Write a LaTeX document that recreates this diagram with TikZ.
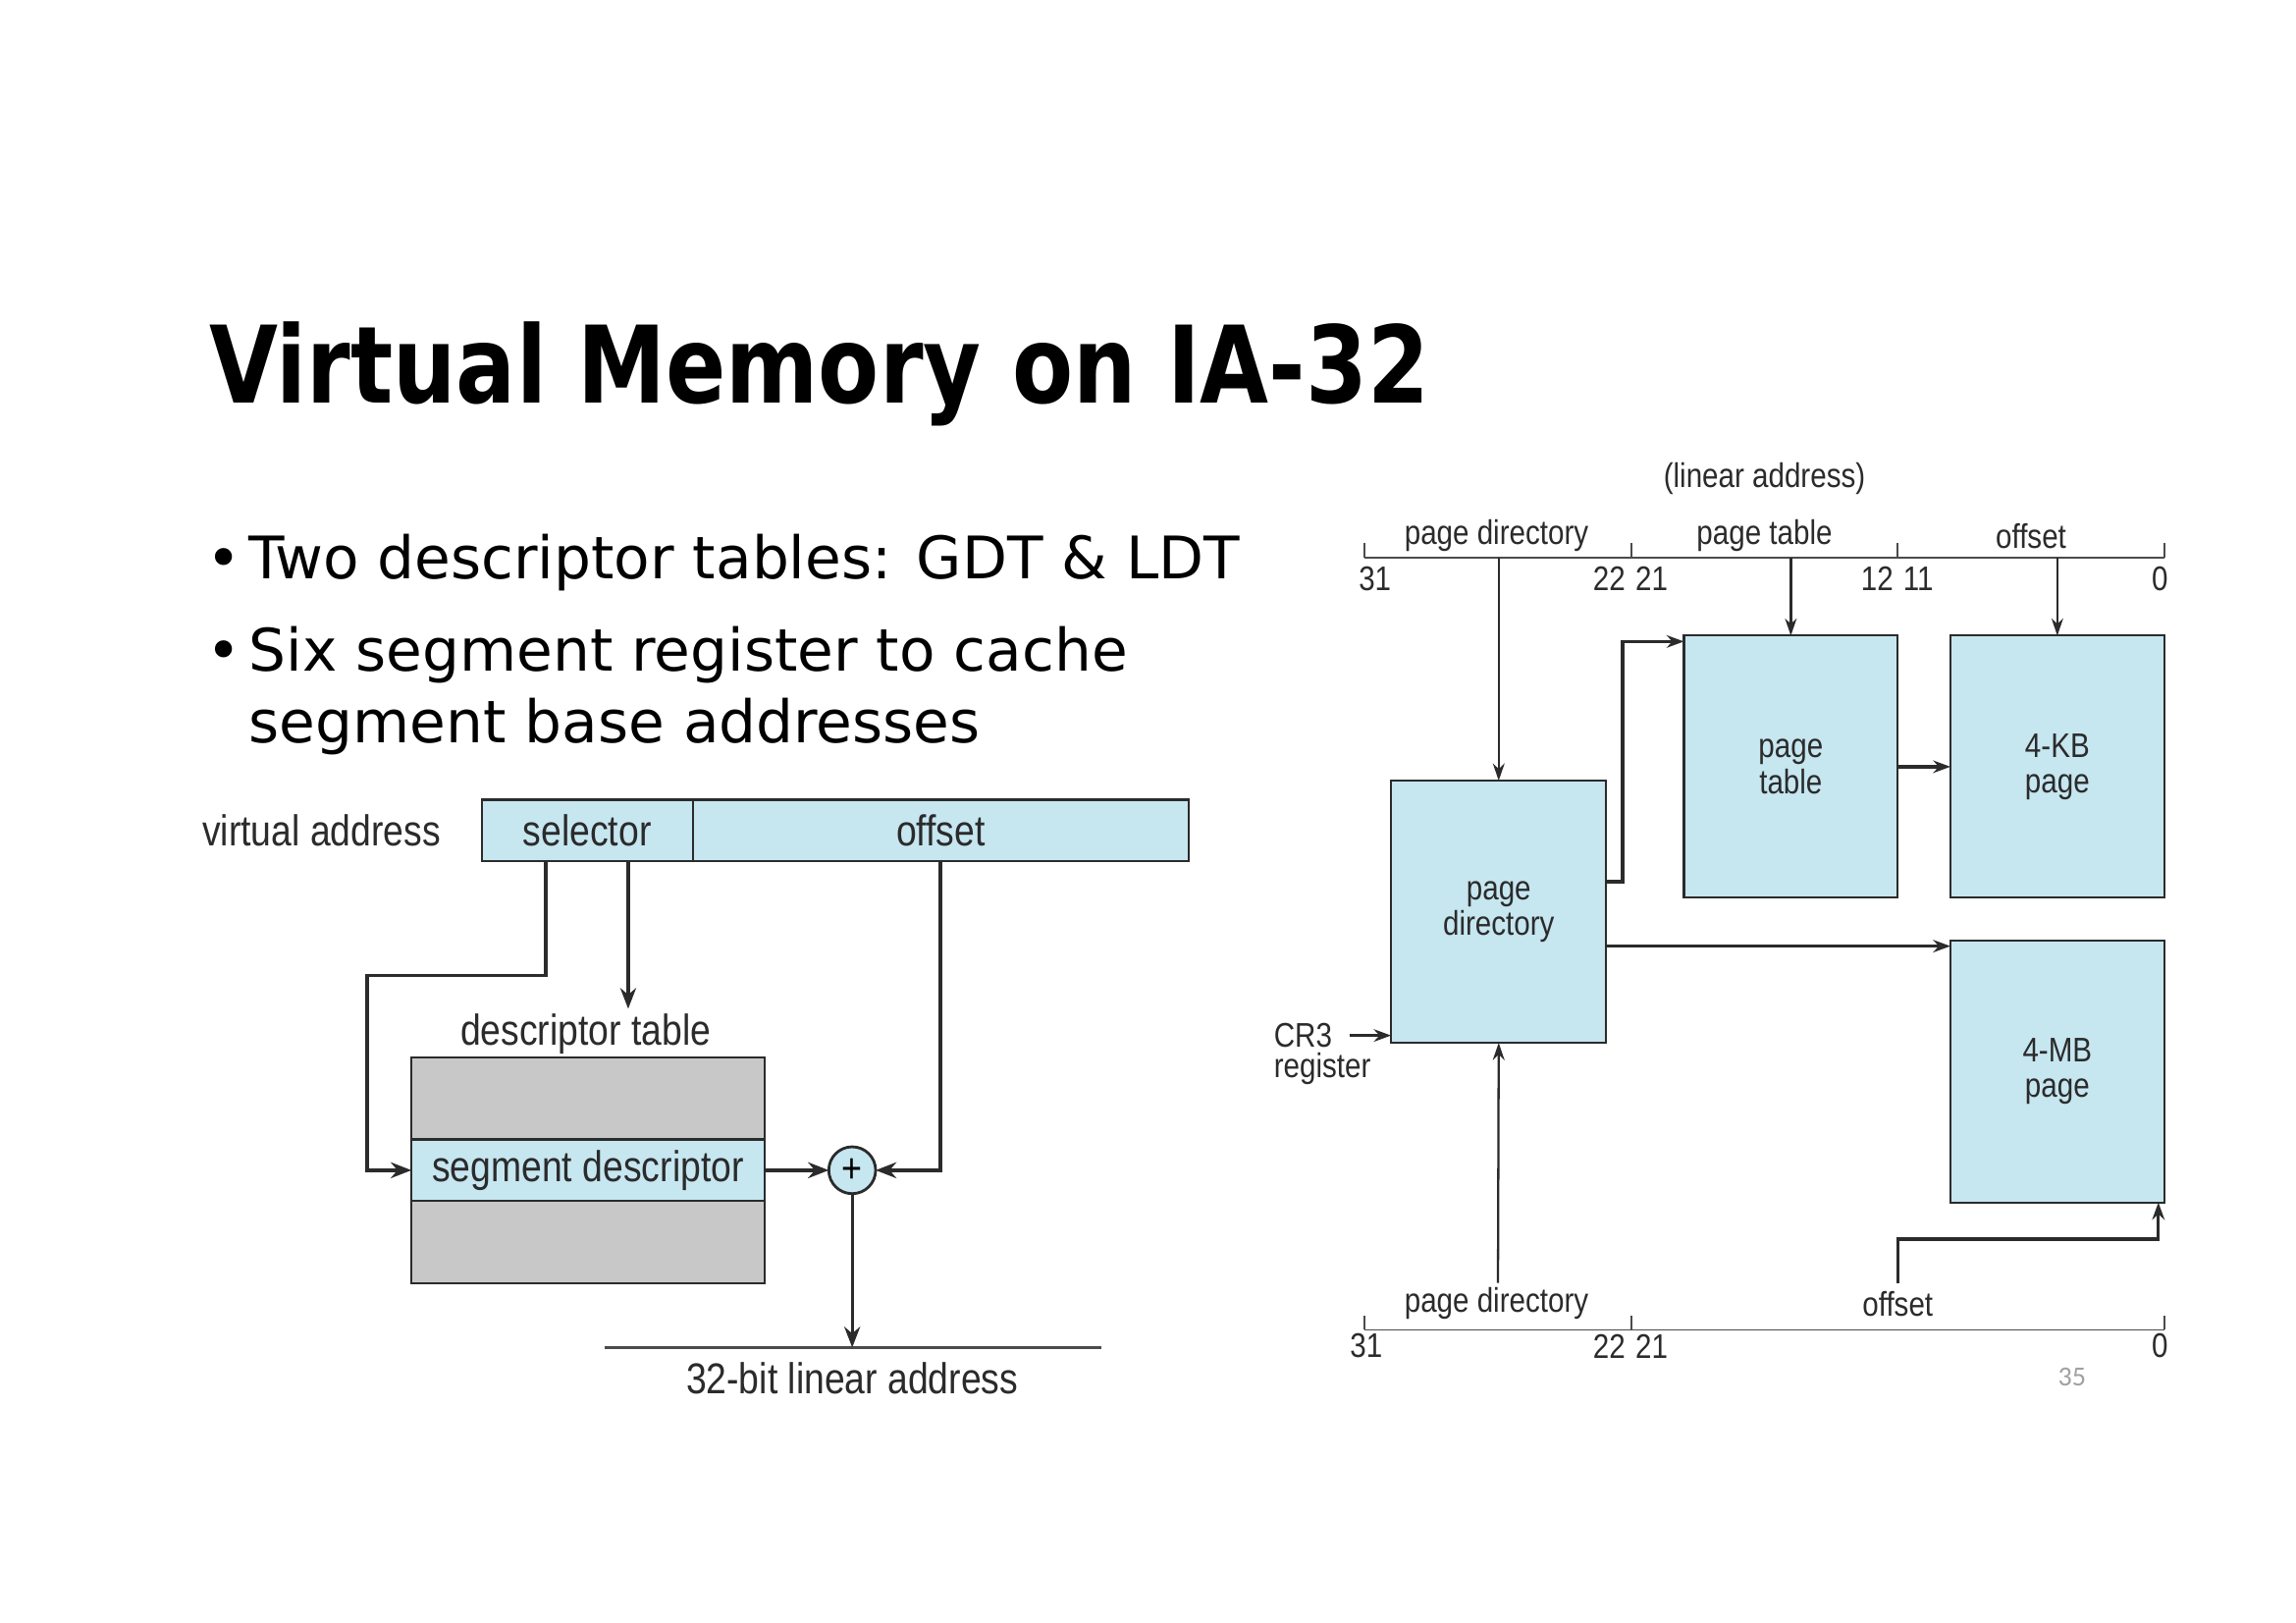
\documentclass[tikz,border=0pt]{standalone}
\usepackage{fontspec}
\setmainfont{DejaVu Sans}
\newfontfamily\titlefont[FakeStretch=0.83]{DejaVu Sans}
\newfontfamily\figfont[FakeStretch=0.85]{Liberation Sans}
\newfontfamily\numfont{Carlito}
\usetikzlibrary{arrows.meta,calc}
\definecolor{boxblue}{HTML}{C6E6F0}
\definecolor{tablegray}{HTML}{C8C8C8}
\definecolor{ink}{HTML}{2B2B2B}
\definecolor{pagegray}{HTML}{A0A0A0}

\begin{document}
\begin{tikzpicture}[x=0.14917mm,y=-0.14917mm,
  every node/.style={inner sep=0pt, outer sep=0pt},
  sized/.style 2 args={minimum width=#1*0.14917mm, minimum height=#2*0.14917mm},
  cell/.style={draw=ink, line width=0.6pt, fill=boxblue, inner sep=0pt, align=center},
  graycell/.style={draw=ink, line width=0.6pt, fill=tablegray, inner sep=0pt},
  lbig/.style={font=\figfont\fontsize{12.5}{14}\selectfont, text=ink},
  lsmall/.style={font=\figfont\fontsize{9.9}{10.3}\selectfont, text=ink, align=center},
  bodytext/.style={font=\fontsize{17}{20}\selectfont, anchor=base west},
  heavy/.style={draw=ink, line width=1.1pt, -{Stealth[length=6pt,width=4.6pt]}},
  light/.style={draw=ink, line width=0.65pt, -{Stealth[length=5pt,width=3.4pt]}},
  medium/.style={draw=ink, line width=0.95pt, -{Stealth[length=5pt,width=3.6pt]}},
  rule/.style={draw=ink!85, line width=0.5pt},
]
\useasboundingbox[fill=white] (0,0) rectangle (1568,1108);

% ---------- heading and bullets ----------
\node[anchor=base west, font=\titlefont\bfseries\fontsize{31}{36}\selectfont] (title) at (143,275) {Virtual Memory on IA-32};

\node[bodytext] (dot1) at (141,395) {•};
\node[bodytext] (line1) at (170,395) {Two descriptor tables: GDT \& LDT};
\node[bodytext] (dot2) at (141,458) {•};
\node[bodytext] (line2) at (170,458) {Six segment register to cache};
\node[bodytext] (line3) at (170,507) {segment base addresses};

% ---------- segmentation ----------
\node[lbig, anchor=east] (va) at (301,567) {virtual address};
\node[cell, lbig, sized={144}{42}] (sel) at (401,567) {selector};
\node[cell, lbig, sized={339}{42}] (off) at (642.5,567) {offset};

\node[lbig] (dtl) at (400,706) {descriptor table};
\node[graycell, sized={241}{154}] (dtab) at (401.5,799) {};
\node[cell, lbig, sized={241}{42}] (sdesc) at (401.5,799) {segment descriptor};

\node[circle, draw=ink, line width=0.8pt, fill=boxblue, minimum size=32*0.14917mm,
      font=\figfont\fontsize{12}{14}\selectfont] (plus) at (582,799) {+};

\coordinate (linL) at (413,920);
\coordinate (linR) at (752,920);
\draw[rule, line width=0.7pt] (linL) -- (linR);
\node[lbig] (linlbl) at (582,941) {32-bit linear address};

\draw[heavy] (373,0 |- sel.south) |- (251,666) |- (sdesc.west);
\draw[heavy, line width=0.9pt] (429,0 |- sel.south) -- ([yshift=1.5pt]429,0 |- dtl.north);
\draw[heavy] (sdesc.east) -- (plus.west);
\draw[heavy] (642,0 |- off.south) |- (plus.east);
\draw[heavy, line width=0.9pt] (plus.south) -- (582,0 |- linL);

% ---------- paging ----------
\node[lsmall] (lin) at (1205,327) {(linear address)};

\coordinate (t31) at (932,381);
\coordinate (t22) at (1114,381);
\coordinate (t12) at (1296,381);
\coordinate (t0)  at (1478,381);
\draw[rule] (t31) -- (t0);
\foreach \c in {t31,t22,t12,t0} \draw[rule] (\c) -- ++(0,-10);

\node[lsmall] (fpd) at (1022,366) {page directory};
\node[lsmall] (fpt) at (1205,366) {page table};
\node[lsmall] (fof) at (1387,366) {offset};
\node[lsmall] (n31) at (939,395) {31};
\node[lsmall] (n22) at (1099,395) {22};
\node[lsmall] (n21) at (1128,395) {21};
\node[lsmall] (n12) at (1282,395) {12};
\node[lsmall] (n11) at (1310,395) {11};
\node[lsmall] (n0)  at (1475,395) {0};

\node[cell, lsmall, sized={147}{179}] (pd) at (1023.5,622.5) {page\\directory};
\node[cell, lsmall, sized={146}{179}] (pt) at (1223,523.5) {page\\table};
\node[cell, lsmall, sized={146}{179}] (kb) at (1405,523.5) {4-KB\\page};
\node[cell, lsmall, sized={146}{179}] (mb) at (1405,731.5) {4-MB\\page};

\draw[light] (pd.north |- t31) -- (pd.north);
\draw[light] (pt.north |- t31) -- (pt.north);
\draw[light] (kb.north |- t31) -- (kb.north);
\draw[medium] (pd.east |- 0,602) -| (1108,438) -- (pt.west |- 0,438);
\draw[medium] (pt.east) -- (kb.west);
\draw[medium] (pd.east |- 0,646) -- (mb.west |- 0,646);

\node[lsmall, anchor=west] (cr3) at (870,707) {CR3};
\node[lsmall, anchor=west] (reg) at (870,730) {register};
\draw[medium] ([xshift=5pt]cr3.east) -- (pd.west |- cr3.east);

\coordinate (b31) at (932,908);
\coordinate (b22) at (1114,908);
\coordinate (b0)  at (1478,908);
\draw[rule] (b31) -- (b0);
\foreach \c in {b31,b22,b0} \draw[rule] (\c) -- ++(0,-10);

\node[lsmall] (gpd) at (1022,890) {page directory};
\node[lsmall] (gof) at (1296,890) {offset};
\node[lsmall] (m31) at (933,919) {31};
\node[lsmall] (m22) at (1099,919) {22};
\node[lsmall] (m21) at (1128,919) {21};
\node[lsmall] (m0)  at (1475,919) {0};

\coordinate (pdsrc) at (1023,876);
\coordinate (ofsrc) at (1296,876);
\coordinate (ofturn) at (1474,846);
\draw[light] (pdsrc) -- (pd.south);
\draw[medium] (ofsrc) |- (ofturn) -- (ofturn |- mb.south);

\node[font=\numfont\fontsize{8}{9}\selectfont, text=pagegray] (pg) at (1415,940) {35};
\end{tikzpicture}
\end{document}
